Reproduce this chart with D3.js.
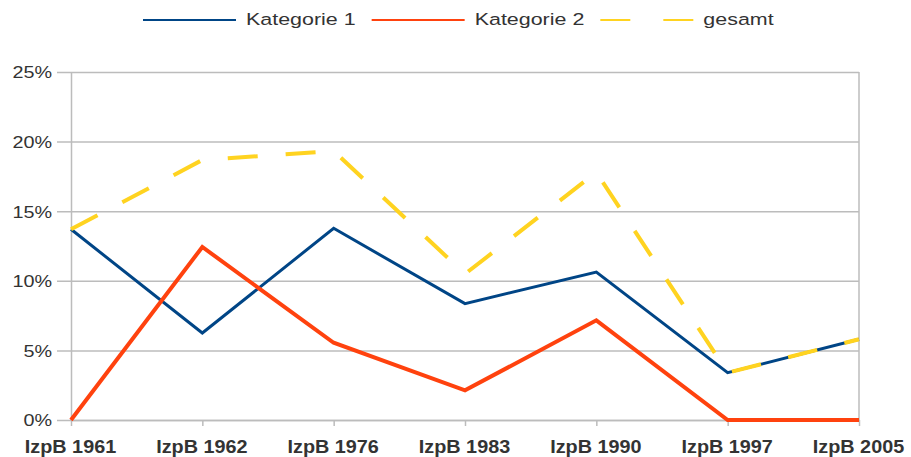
<!DOCTYPE html>
<html>
<head>
<meta charset="utf-8">
<script src="https://cdn.jsdelivr.net/npm/d3@7"></script>
<style>
  html, body { margin: 0; padding: 0; background: #fff; }
  svg { display: block; }
  text { font-family: "Liberation Sans", Arial, sans-serif; fill: #333; }
</style>
</head>
<body>
<svg id="chart" width="911" height="457"></svg>
<script>
// ---- data ----
const categories = ["IzpB 1961", "IzpB 1962", "IzpB 1976", "IzpB 1983", "IzpB 1990", "IzpB 1997", "IzpB 2005"];
const kategorie1 = [0.137, 0.0625, 0.1377, 0.0836, 0.1063, 0.034, 0.058];
const kategorie2 = [0.0, 0.1243, 0.0555, 0.0213, 0.0716, 0.0, 0.0];
const gesamt     = [0.137, 0.1868, 0.1932, 0.1049, 0.1779, 0.034, 0.058];
const seriesNames = ["Kategorie 1", "Kategorie 2", "gesamt"];
const yTickValues = [0, 0.05, 0.10, 0.15, 0.20, 0.25];

// ---- layout ----
const plotL = 71, plotR = 859, plotT = 72, plotB = 420;
const svg = d3.select("#chart");

const x = d3.scalePoint().domain(categories).range([plotL, plotR]);
const y = d3.scaleLinear().domain([0, 0.25]).range([plotB, plotT]);

const gridColor = "#bcbcbc";

// gridlines (extending left as tick marks)
const yGrid = svg.append("g").attr("transform", `translate(${plotL - 14},0)`)
  .call(d3.axisRight(y).tickValues(yTickValues).tickSize(plotR - plotL + 14).tickFormat(""));
yGrid.select(".domain").remove();
yGrid.selectAll("line").attr("stroke", gridColor).attr("stroke-width", 1.5);

// y labels
const yAx = svg.append("g").attr("transform", `translate(${plotL},0)`)
  .call(d3.axisLeft(y).tickValues(yTickValues).tickSize(0).tickFormat(d3.format(".0%")));
yAx.select(".domain").attr("stroke", gridColor).attr("stroke-width", 1.5);
yAx.selectAll("text")
  .attr("x", 0).attr("dy", "0.36em")
  .attr("transform", "translate(-19,0) scale(1.2,1)")
  .style("font-size", "16.5px").style("fill", "#333");

// right border
svg.append("line").attr("x1", plotR).attr("x2", plotR).attr("y1", plotT).attr("y2", plotB)
  .attr("stroke", gridColor).attr("stroke-width", 1.5);

// x axis
const xAx = svg.append("g").attr("transform", `translate(0,${plotB})`)
  .call(d3.axisBottom(x).tickSizeInner(6).tickSizeOuter(0));
xAx.select(".domain").attr("stroke", gridColor).attr("stroke-width", 1.5);
xAx.selectAll("line").attr("stroke", gridColor).attr("stroke-width", 1.5);
xAx.selectAll("text")
  .attr("y", 0).attr("dy", 0)
  .attr("transform", "translate(-1,32.5) scale(1.1,1)")
  .style("font-size", "18px").style("font-weight", "bold").style("fill", "#333");

// ---- series ----
const series = [
  { name: seriesNames[0], values: kategorie1, color: "#004586", width: 3, dash: null },
  { name: seriesNames[1], values: kategorie2, color: "#ff420e", width: 4, dash: null },
  { name: seriesNames[2], values: gesamt, color: "#ffd320", width: 4, dash: "30,28" }
];
const line = d3.line().x((d, i) => x(categories[i])).y(d => y(d));
series.forEach(s => {
  svg.append("path").datum(s.values)
    .attr("d", line)
    .attr("fill", "none")
    .attr("stroke", s.color)
    .attr("stroke-width", s.width)
    .attr("stroke-linejoin", "miter")
    .attr("stroke-dasharray", s.dash);
});

// ---- legend ----
const legendY = 20;
const lineLen = 93, textGap = 10, itemGap = 16, legendScale = 1.3;
let lx = 143;
series.forEach(s => {
  svg.append("line")
    .attr("x1", lx).attr("x2", lx + lineLen)
    .attr("y1", legendY).attr("y2", legendY)
    .attr("stroke", s.color).attr("stroke-width", 2)
    .attr("stroke-dasharray", s.dash ? "30,33" : null);
  lx += lineLen + textGap;
  const t = svg.append("text")
    .attr("transform", `translate(${lx},${legendY + 5}) scale(${legendScale},1)`)
    .style("font-size", "16.5px")
    .text(s.name);
  lx += t.node().getComputedTextLength() * legendScale + itemGap;
});
</script>
</body>
</html>
